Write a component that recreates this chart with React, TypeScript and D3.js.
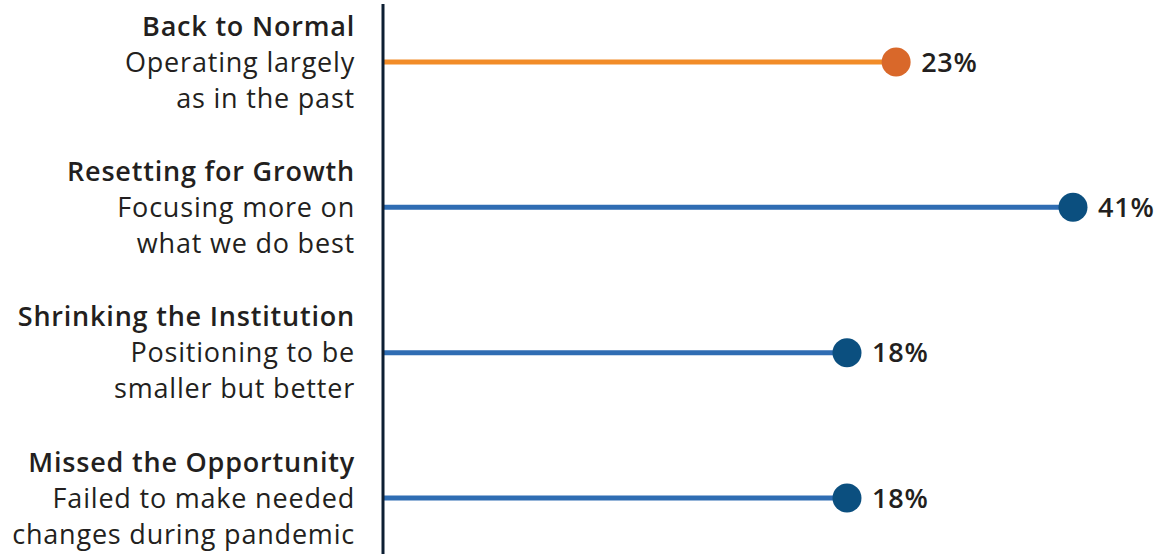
import { useEffect, useRef } from 'react'
import * as d3 from 'd3'

const categories = ['Back to Normal', 'Resetting for Growth', 'Shrinking the Institution', 'Missed the Opportunity']
const descriptions = [
  ['Operating largely', 'as in the past'],
  ['Focusing more on', 'what we do best'],
  ['Positioning to be', 'smaller but better'],
  ['Failed to make needed', 'changes during pandemic'],
]
const values = [23, 41, 18, 18]
const highlighted = ['Back to Normal']

function App() {
  const svgRef = useRef<SVGSVGElement>(null)

  useEffect(() => {
    const width = 1154
    const height = 554
    const axisX = 383
    const labelX = 355
    const font = '"Open Sans", "Noto Sans", sans-serif'
    const size = 27
    const spacing = 0.8

    const svg = d3.select(svgRef.current)
      .attr('width', width)
      .attr('height', height)
    svg.selectAll('*').remove()

    // value scale (dots); stems start at the axis line
    const x = d3.scaleLinear()
      .domain([18, 41])
      .range([847, 1073])

    const y = d3.scalePoint<string>()
      .domain(categories)
      .range([62, 498])

    const rows = svg.selectAll('g.row')
      .data(categories)
      .join('g')
      .attr('class', 'row')
      .attr('transform', d => `translate(0,${y(d)})`)

    rows.append('line')
      .attr('x1', axisX)
      .attr('x2', (_, i) => x(values[i]))
      .attr('stroke', d => highlighted.includes(d) ? '#f28c28' : '#2f6db3')
      .attr('stroke-width', 5)

    rows.append('circle')
      .attr('cx', (_, i) => x(values[i]))
      .attr('r', 14.5)
      .attr('fill', d => highlighted.includes(d) ? '#d9682a' : '#0b4f7f')

    rows.append('text')
      .attr('x', (_, i) => x(values[i]) + 25)
      .attr('dy', '0.36em')
      .attr('font-family', font)
      .attr('font-size', size)
      .attr('font-weight', 600)
      .attr('letter-spacing', spacing)
      .attr('fill', '#231f20')
      .text((_, i) => `${values[i]}%`)

    rows.append('text')
      .attr('x', labelX)
      .attr('y', -36)
      .attr('dy', '0.36em')
      .attr('text-anchor', 'end')
      .attr('font-family', font)
      .attr('font-size', size)
      .attr('font-weight', 600)
      .attr('letter-spacing', spacing)
      .attr('fill', '#231f20')
      .text(d => d)

    rows.each(function (_, i) {
      d3.select(this).selectAll('text.desc')
        .data(descriptions[i])
        .join('text')
        .attr('class', 'desc')
        .attr('x', labelX)
        .attr('y', (_, j) => j * 36)
        .attr('dy', '0.36em')
        .attr('text-anchor', 'end')
        .attr('font-family', font)
        .attr('font-size', size)
        .attr('letter-spacing', spacing)
        .attr('fill', '#231f20')
        .text(t => t)
    })

    svg.append('line')
      .attr('x1', axisX)
      .attr('x2', axisX)
      .attr('y1', 4)
      .attr('y2', height)
      .attr('stroke', '#0d1f33')
      .attr('stroke-width', 3)
  }, [])

  return (
    <div style={{ position: 'absolute', left: 0, top: 0 }}>
      <svg ref={svgRef}></svg>
    </div>
  )
}

export default App
